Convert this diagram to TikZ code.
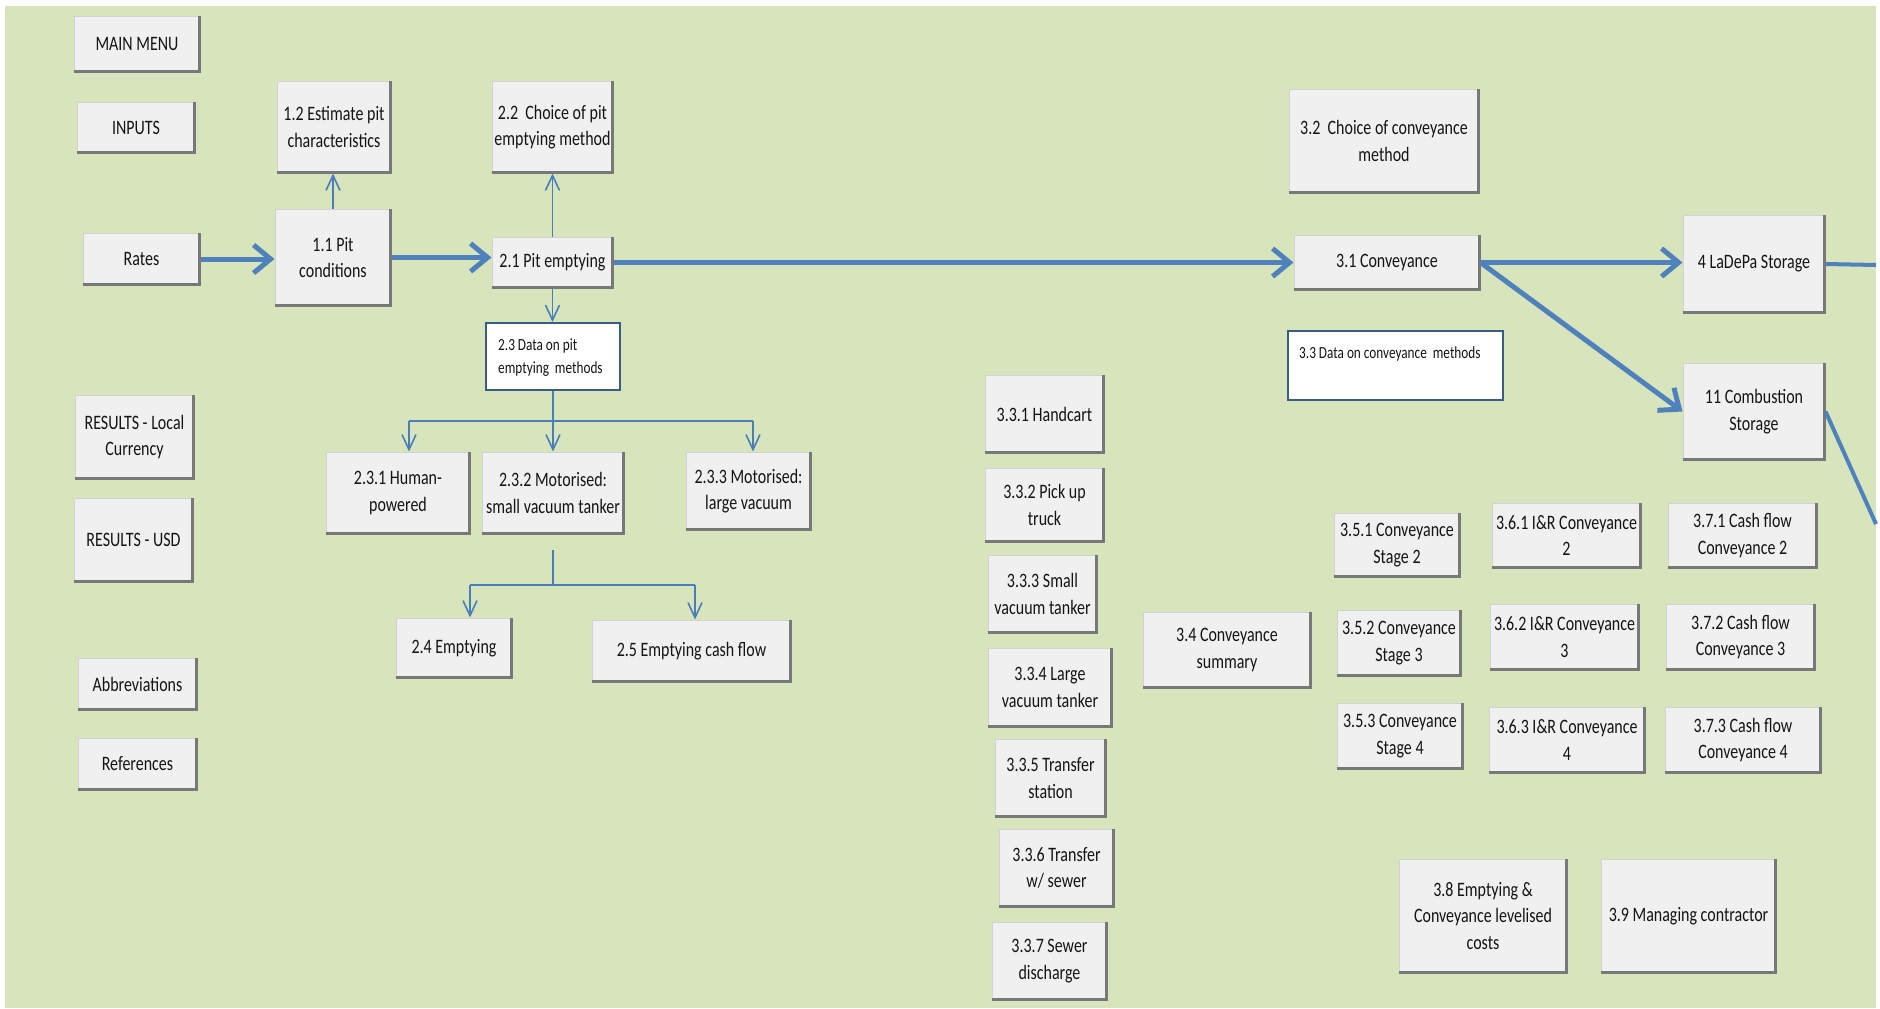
\documentclass[tikz,border=0pt]{standalone}
\usepackage{fontspec}
\usetikzlibrary{arrows.meta}
\newfontfamily\boxfont{Carlito}[FakeStretch=0.78]

\definecolor{pagebg}{HTML}{D8E4BC}
\definecolor{btnfill}{HTML}{F0F0F0}
\definecolor{btnrim}{HTML}{D2D2D2}
\definecolor{btnshade}{HTML}{787878}
\definecolor{flowblue}{HTML}{4F81BD}
\definecolor{linkblue}{HTML}{4A7EBB}
\definecolor{datarim}{HTML}{385D8A}

\tikzset{
  btn/.style={rectangle, fill=btnfill, draw=btnrim, line width=1pt, inner sep=0pt,
    align=center, text=black!92,
    font=\boxfont\fontsize{20.5}{26.5}\selectfont},
  btnshadow/.style={draw=btnshade, line width=3pt, line join=miter},
  databox/.style={rectangle, fill=white, draw=datarim, line width=2pt, inner sep=0pt},
  datatext/.style={inner sep=0pt, anchor=north west, align=left, text=black!92,
    font=\boxfont\fontsize{17}{23}\selectfont},
  flow/.style={draw=flowblue, line width=5pt,
    -{Straight Barb[length=17pt, width=28pt, line width=5pt]}},
  flowout/.style={draw=flowblue, line width=4pt},
  link/.style={draw=linkblue, line width=1.6pt,
    -{Straight Barb[length=15pt, width=14pt, line width=1.6pt]}},
  linkbar/.style={draw=linkblue, line width=2.4pt},
  linkstem/.style={draw=linkblue, line width=1.6pt},
}

% raised button box: name, left, top, right, bottom, text
\newcommand\btnnode[6]{%
  \node[btn, minimum width={(#4-#2)*1pt}, minimum height={(#5-#3)*1pt}]
    (#1) at ({(#2+#4)/2},{(#3+#5)/2}) {#6};
  \draw[btnshadow] ([yshift=1pt]#1.south west) -- ([xshift=-1pt,yshift=1pt]#1.south east)
    -- ([xshift=-1pt]#1.north east);
}

\begin{document}
\begin{tikzpicture}[x=1pt, y=-1pt]
  \useasboundingbox (0,0) rectangle (1880,1009);
  \fill[white] (0,0) rectangle (1880,1009);
  \fill[pagebg] (5,6) rectangle (1876,1008);

  % navigation buttons
  \btnnode{mainmenu}{74}{16}{200}{72}{MAIN MENU}
  \btnnode{inputs}{77}{102}{195}{153}{INPUTS}
  \btnnode{rates}{83}{233}{200}{285}{Rates}
  \btnnode{reslocal}{75}{395}{194}{479}{RESULTS - Local\\Currency}
  \btnnode{resusd}{74}{498}{193}{582}{RESULTS - USD}
  \btnnode{abbrev}{78}{658}{197}{710}{Abbreviations}
  \btnnode{refs}{78}{738}{197}{790}{References}

  % pit stages
  \btnnode{p11}{275}{209}{391}{306}{1.1 Pit\\conditions}
  \btnnode{e12}{277}{81}{391}{173}{1.2 Estimate pit\\characteristics}
  \btnnode{c22}{492}{81}{613}{173}{2.2 \ Choice of pit\\emptying method}
  \btnnode{p21}{492}{237}{613}{288}{2.1 Pit emptying}

  \node[databox, minimum width=134pt, minimum height=67pt] (d23) at (553,356.5) {};
  \node[datatext] (d23t) at ([xshift=13pt,yshift=-17pt]d23.north west)
    {2.3 Data on pit\\emptying \ methods};

  \btnnode{m231}{326}{452}{470}{534}{2.3.1 Human-\\powered}
  \btnnode{m232}{482}{452}{624}{534}{2.3.2 Motorised:\\small vacuum tanker}
  \btnnode{m233}{686}{452}{811}{530}{2.3.3 Motorised:\\large vacuum}
  \btnnode{m24}{396}{618}{512}{678}{2.4 Emptying}
  \btnnode{m25}{592}{620}{791}{682}{2.5 Emptying cash flow}

  % conveyance stages
  \btnnode{c32}{1289}{89}{1479}{193}{3.2 \ Choice of conveyance\\method}
  \btnnode{c31}{1294}{235}{1480}{290}{3.1 Conveyance}
  \node[databox, minimum width=215pt, minimum height=69pt] (d33) at (1395.5,365.5) {};
  \node[datatext] (d33t) at ([xshift=12pt,yshift=-16pt]d33.north west)
    {3.3 Data on conveyance \ methods};

  \btnnode{s4}{1683}{215}{1825}{313}{4 LaDePa Storage}
  \btnnode{s11}{1683}{363}{1825}{460}{11 Combustion\\Storage}

  \btnnode{v331}{985}{375}{1104}{453}{3.3.1 Handcart}
  \btnnode{v332}{985}{468}{1104}{542}{3.3.2 Pick up\\truck}
  \btnnode{v333}{988}{555}{1097}{633}{3.3.3 Small\\vacuum tanker}
  \btnnode{v334}{988}{648}{1112}{727}{3.3.4 Large\\vacuum tanker}
  \btnnode{v335}{995}{739}{1106}{817}{3.3.5 Transfer\\station}
  \btnnode{v336}{999}{829}{1114}{907}{3.3.6 Transfer\\w/ sewer}
  \btnnode{v337}{992}{922}{1107}{1000}{3.3.7 Sewer\\discharge}

  \btnnode{c34}{1143}{612}{1311}{688}{3.4 Conveyance\\summary}

  \btnnode{c351}{1334}{513}{1460}{577}{3.5.1 Conveyance\\Stage 2}
  \btnnode{c352}{1337}{610}{1461}{676}{3.5.2 Conveyance\\Stage 3}
  \btnnode{c353}{1337}{703}{1463}{769}{3.5.3 Conveyance\\Stage 4}

  \btnnode{c361}{1492}{503}{1641}{568}{3.6.1 I\&R Conveyance\\2}
  \btnnode{c362}{1490}{604}{1639}{670}{3.6.2 I\&R Conveyance\\3}
  \btnnode{c363}{1489}{707}{1645}{773}{3.6.3 I\&R Conveyance\\4}

  \btnnode{c371}{1668}{503}{1817}{568}{3.7.1 Cash flow\\Conveyance 2}
  \btnnode{c372}{1666}{604}{1815}{670}{3.7.2 Cash flow\\Conveyance 3}
  \btnnode{c373}{1665}{707}{1821}{773}{3.7.3 Cash flow\\Conveyance 4}

  \btnnode{c38}{1399}{859}{1567}{973}{3.8 Emptying \&\\Conveyance levelised\\costs}
  \btnnode{c39}{1601}{859}{1776}{973}{3.9 Managing contractor}

  % main flow
  \draw[flow] (rates.east) -- (rates.east -| p11.west);
  \draw[flow] (p11.east) -- (p11.east -| p21.west);
  \draw[flow] (p21.east) -- (p21.east -| c31.west);
  \draw[flow] (c31.east) -- (c31.east -| s4.west);
  \draw[flow] (c31.east) -- (s11.west);

  \coordinate (edgeA) at (1876,265);
  \coordinate (edgeB) at (1876,524);
  \draw[flowout] (s4.east) -- (edgeA);
  \draw[flowout] (s11.east) -- (edgeB);

  % side links
  \draw[link] (p11.north) -- (p11.north |- e12.south);
  \draw[link] (p21.north) -- (p21.north |- c22.south);
  \draw[link] (p21.south) -- (p21.south |- d23.north);

  % pit emptying methods
  \coordinate (j0) at (553,421);
  \coordinate (j1) at (409,421);
  \coordinate (j3) at (753,421);
  \draw[linkstem] (d23.south) -- (j0);
  \draw[linkbar] (j1) -- (j3);
  \draw[link] (j1) -- (j1 |- m231.north);
  \draw[link] (j0) -- (j0 |- m232.north);
  \draw[link] (j3) -- (j3 |- m233.north);

  % emptying results
  \coordinate (k0) at (553,550);
  \coordinate (k1) at (553,585);
  \coordinate (k2) at (470,585);
  \coordinate (k3) at (695,585);
  \draw[linkstem] (k0) -- (k1);
  \draw[linkbar] (k2) -- (k3);
  \draw[link] (k2) -- (k2 |- m24.north);
  \draw[link] (k3) -- (k3 |- m25.north);
\end{tikzpicture}
\end{document}
